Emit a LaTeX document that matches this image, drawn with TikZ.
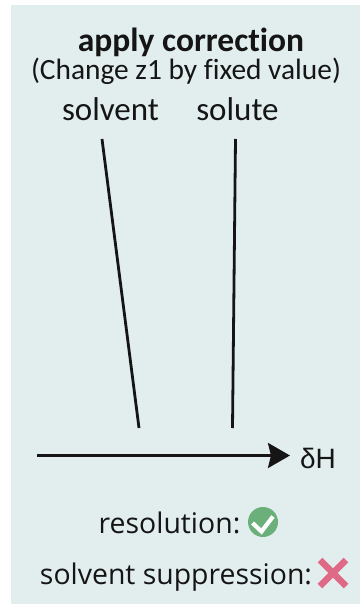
\documentclass[tikz,border=0pt]{standalone}
\usepackage{fontspec}
\setmainfont{Open Sans}
\newfontfamily\topfont[Ligatures=NoCommon]{Carlito}
\newfontfamily\symfont{Liberation Sans}
\definecolor{bgc}{HTML}{E2EEEE}
\definecolor{okc}{HTML}{6BB07A}
\definecolor{noc}{HTML}{DE6A85}
\definecolor{ink}{HTML}{151515}
\usetikzlibrary{arrows.meta}
\tikzset{
  lbl/.style={inner sep=0pt,text=ink,font=\fontsize{28.4}{28.4}\selectfont,anchor=base},
  toplbl/.style={inner sep=0pt,text=ink,font=\topfont\fontsize{33}{33}\selectfont,anchor=base},
  ttl/.style={inner sep=0pt,text=ink,font=\topfont\fontsize{33.5}{33.5}\selectfont\bfseries,anchor=base},
  sub/.style={inner sep=0pt,text=ink,font=\topfont\fontsize{29.4}{29.4}\selectfont,anchor=base},
  sym/.style={inner sep=0pt,text=ink,font=\symfont\fontsize{28}{28}\selectfont,anchor=base},
  peak/.style={draw=ink,line width=2.8pt},
  axis/.style={draw=ink,line width=2.8pt,-{Stealth[width=25pt,length=22pt,inset=3pt]}},
}
\begin{document}
\begin{tikzpicture}[x=1pt,y=-1pt]
\useasboundingbox (0,0) rectangle (360,604);
\fill[white] (0,0) rectangle (360,604);
\fill[bgc] (11,5) rectangle (360,604);
\node[ttl] (title) at (191,52) {apply correction};
\node[sub] (subtitle) at (186,80) {(Change z1 by fixed value)};
\node[toplbl] (solvent) at (110.5,121) {solvent};
\node[toplbl] (solute) at (237.5,121) {solute};
\coordinate (s1) at (102,139);
\coordinate (s2) at (139,428);
\coordinate (u1) at (235.5,139);
\coordinate (u2) at (232.5,428);
\draw[peak] (s1) -- (s2);
\draw[peak] (u1) -- (u2);
\coordinate (a1) at (37,455.5);
\coordinate (a2) at (290,455.5);
\draw[axis] (a1) -- (a2);
\node[sym] (dh) at (318,468) {δH};
\node[lbl] (res) at (169.5,533) {resolution:};
\node[circle,fill=okc,minimum size=30pt,inner sep=0pt] (ok) at (263,522) {};
\draw[white,line width=4.2pt] (252.5,523) -- (261.5,531.5) -- (273,516.5);
\node[lbl] (sup) at (176,584) {solvent suppression:};
\coordinate (x1) at (320,560);
\coordinate (x2) at (346,586);
\coordinate (x3) at (346,560);
\coordinate (x4) at (320,586);
\draw[noc,line width=6.5pt] (x1) -- (x2);
\draw[noc,line width=6.5pt] (x3) -- (x4);
\end{tikzpicture}
\end{document}
